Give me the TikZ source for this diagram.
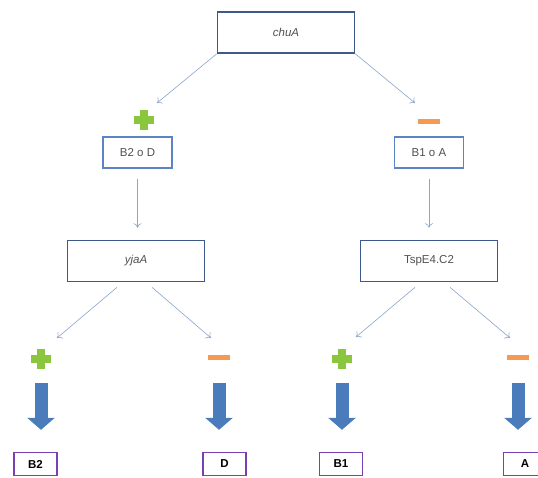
\documentclass[tikz,border=0pt]{standalone}
\usepackage{fontspec}
\setmainfont{Liberation Sans}
\usetikzlibrary{arrows.meta}
\definecolor{genebd}{HTML}{3D5A8A}
\definecolor{groupbd}{HTML}{5B84C2}
\definecolor{resultbd}{HTML}{7A3FB0}
\definecolor{linkblue}{HTML}{8AA4CC}
\definecolor{fatblue}{HTML}{4A7CBC}
\definecolor{plusgreen}{HTML}{8CC63F}
\definecolor{minusorange}{HTML}{F59A50}
\definecolor{textgray}{HTML}{505050}
\begin{document}
\begin{tikzpicture}[
x=1pt,y=-1pt,
gene/.style={draw=genebd,line width=1.6pt,minimum width=137pt,minimum height=41pt,text=textgray,font=\fontsize{11.5}{13}\selectfont},
group/.style={draw=groupbd,line width=1.4pt,minimum width=69pt,minimum height=31pt,text=textgray,font=\fontsize{11.5}{13}\selectfont},
result/.style={draw=resultbd,line width=1.4pt,minimum width=43pt,minimum height=23pt,font=\bfseries\fontsize{11.5}{13}\selectfont},
link/.style={draw=linkblue,line width=0.6pt,-{To[length=4.5pt,width=8pt]}},
fat/.style={draw=fatblue,line width=13pt,-{Triangle[length=12pt,width=27pt]},shorten <=24pt,shorten >=22pt},
plussign/.style={minimum size=20pt,inner sep=0pt,
	path picture={
		\fill[plusgreen] ([xshift=-4pt]path picture bounding box.north) rectangle ([xshift=4pt]path picture bounding box.south);
		\fill[plusgreen] ([yshift=4pt]path picture bounding box.west) rectangle ([yshift=-4pt]path picture bounding box.east);
	}},
minussign/.style={fill=minusorange,minimum width=22pt,minimum height=5pt,inner sep=0pt}
]
\useasboundingbox (0,0) rectangle (538,477);
% first level
\node[gene] (chua) at (286,32.5) {\itshape chuA};
\node[plussign] (p1) at (144,120) {};
\node[minussign] (m1) at (429,121) {};
\node[group] (b2od) at (137.5,152.5) {B2 o D};
\node[group] (b1oa) at (429,152.5) {B1 o A};
\coordinate (e1) at (157,103);
\coordinate (e2) at (415,103);
\draw[link] (chua.south west) -- (e1);
\draw[link] (chua.south east) -- (e2);
% second level
\node[gene] (yjaa) at (136,261) {\itshape yjaA};
\node[gene] (tspe) at (429,261) {TspE4.C2};
\draw[link,shorten <=10pt,shorten >=12pt] (b2od.south) -- (b2od.south |- yjaa.north);
\draw[link,shorten <=10pt,shorten >=12pt] (b1oa.south) -- (b1oa.south |- tspe.north);
\coordinate (e3) at (57,338);
\coordinate (e4) at (211,338);
\coordinate (e5) at (356,337);
\coordinate (e6) at (510,338);
\draw[link] ([xshift=-19pt,yshift=-5pt]yjaa.south) -- (e3);
\draw[link] ([xshift=16pt,yshift=-5pt]yjaa.south) -- (e4);
\draw[link] ([xshift=-14pt,yshift=-5pt]tspe.south) -- (e5);
\draw[link] ([xshift=21pt,yshift=-5pt]tspe.south) -- (e6);
% groups
\node[plussign] (p2) at (41,359) {};
\node[minussign] (m2) at (219,357) {};
\node[plussign] (p3) at (342,359) {};
\node[minussign] (m3) at (518,357) {};
\node[result] (b2) at (35.5,464) {B2};
\node[result] (d) at (224.5,464) {D};
\node[result] (b1) at (341,464) {B1};
\node[result] (a) at (525,464) {A};
\draw[fat] (p2.center) -- (p2.center |- b2.north);
\draw[fat,shorten <=26pt] (m2.center) -- (m2.center |- d.north);
\draw[fat] (p3.center) -- (p3.center |- b1.north);
\draw[fat,shorten <=26pt] (m3.center) -- (m3.center |- a.north);
\end{tikzpicture}
\end{document}
